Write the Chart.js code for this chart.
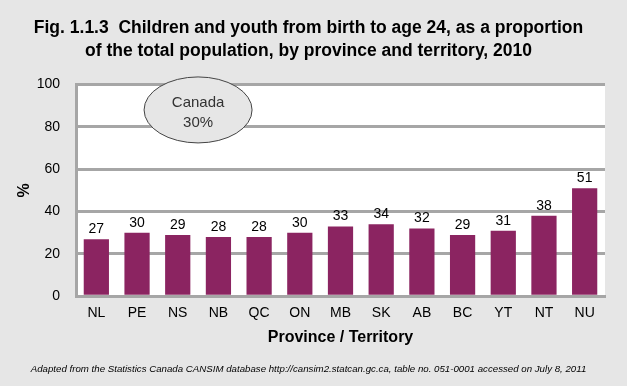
<!DOCTYPE html>
<html>
<head>
<meta charset="utf-8">
<script src="https://cdn.jsdelivr.net/npm/chart.js@4"></script>
<style>
  html, body { margin: 0; padding: 0; background: #e6e6e6; }
  #wrap { width: 627px; height: 386px; }
</style>
</head>
<body>
<div id="wrap"><canvas id="chart" width="627" height="386"></canvas></div>
<script>
const provinces = ['NL', 'PE', 'NS', 'NB', 'QC', 'ON', 'MB', 'SK', 'AB', 'BC', 'YT', 'NT', 'NU'];
const shares = [27, 30, 29, 28, 28, 30, 33, 34, 32, 29, 31, 38, 51];
const yTicks = [0, 20, 40, 60, 80, 100];
const canadaLabel = ['Canada', '30%'];

const font = "'Liberation Sans', Arial, Helvetica, sans-serif";

// white plot background
const plotBg = {
    id: 'plotBg',
    beforeDraw(c) {
        const a = c.chartArea, ctx = c.ctx;
        ctx.save();
        ctx.fillStyle = '#ffffff';
        ctx.fillRect(a.left, a.top, a.right - a.left, a.bottom - a.top);
        ctx.restore();
    }
};

// value labels above bars + Canada ellipse
const extras = {
    id: 'extras',
    afterDatasetsDraw(c) {
        const ctx = c.ctx;
        const meta = c.getDatasetMeta(0);
        ctx.save();
        ctx.fillStyle = '#000';
        ctx.font = '14px ' + font;
        ctx.textAlign = 'center';
        ctx.textBaseline = 'bottom';
        meta.data.forEach((bar, i) => {
            ctx.fillText(String(shares[i]), bar.x, bar.y - 3);
        });

        const x = c.scales.x.getPixelForValue(2.5);
        const y = c.scales.y.getPixelForValue(88);
        ctx.beginPath();
        ctx.ellipse(x, y, 54, 33, 0, 0, Math.PI * 2);
        ctx.fillStyle = '#e6e6e6';
        ctx.fill();
        ctx.lineWidth = 1;
        ctx.strokeStyle = '#444';
        ctx.stroke();
        ctx.fillStyle = '#333';
        ctx.font = '15px ' + font;
        ctx.textBaseline = 'middle';
        ctx.fillText(canadaLabel[0], x, y - 7);
        ctx.fillText(canadaLabel[1], x, y + 13);
        ctx.restore();
    }
};

new Chart(document.getElementById('chart'), {
    type: 'bar',
    data: {
        labels: provinces,
        datasets: [{
            data: shares,
            backgroundColor: '#8b2461',
            borderWidth: 0,
            categoryPercentage: 1,
            barPercentage: 0.62
        }]
    },
    options: {
        responsive: false,
        animation: false,
        layout: { padding: { left: 12, right: 22, top: 4, bottom: 4 } },
        plugins: {
            legend: { display: false },
            tooltip: { enabled: false },
            title: {
                display: true,
                text: ['Fig. 1.1.3  Children and youth from birth to age 24, as a proportion',
                       'of the total population, by province and territory, 2010'],
                color: '#000',
                font: { family: font, size: 17.5, weight: 'bold', lineHeight: 1.3 },
                padding: { top: 13, bottom: 22 }
            },
            subtitle: {
                display: true,
                position: 'bottom',
                text: 'Adapted from the Statistics Canada CANSIM database http://cansim2.statcan.gc.ca, table no. 051-0001 accessed on July 8, 2011',
                color: '#000',
                font: { family: font, size: 9.7, style: 'italic' },
                padding: { top: 18, bottom: 7 }
            }
        },
        scales: {
            x: {
                grid: { display: false, drawTicks: false },
                border: { color: '#a6a6a6', width: 3 },
                ticks: { color: '#000', font: { family: font, size: 14, lineHeight: 1 }, padding: 10 },
                title: {
                    display: true,
                    text: 'Province / Territory',
                    color: '#000',
                    font: { family: font, size: 16, weight: 'bold', lineHeight: 1 },
                    padding: { top: -1, bottom: 0 }
                }
            },
            y: {
                min: 0,
                max: 100,
                afterBuildTicks(axis) { axis.ticks = yTicks.map(v => ({ value: v })); },
                afterFit(axis) { axis.width = 64; },
                grid: { color: '#a6a6a6', lineWidth: 3, drawTicks: false },
                border: { color: '#a6a6a6', width: 3 },
                ticks: { color: '#000', font: { family: font, size: 14 }, padding: 16 },
                title: {
                    display: true,
                    text: '%',
                    color: '#000',
                    font: { family: font, size: 16, weight: 'bold' },
                    padding: { top: 3, bottom: 0 }
                }
            }
        }
    },
    plugins: [plotBg, extras]
});
</script>
</body>
</html>
